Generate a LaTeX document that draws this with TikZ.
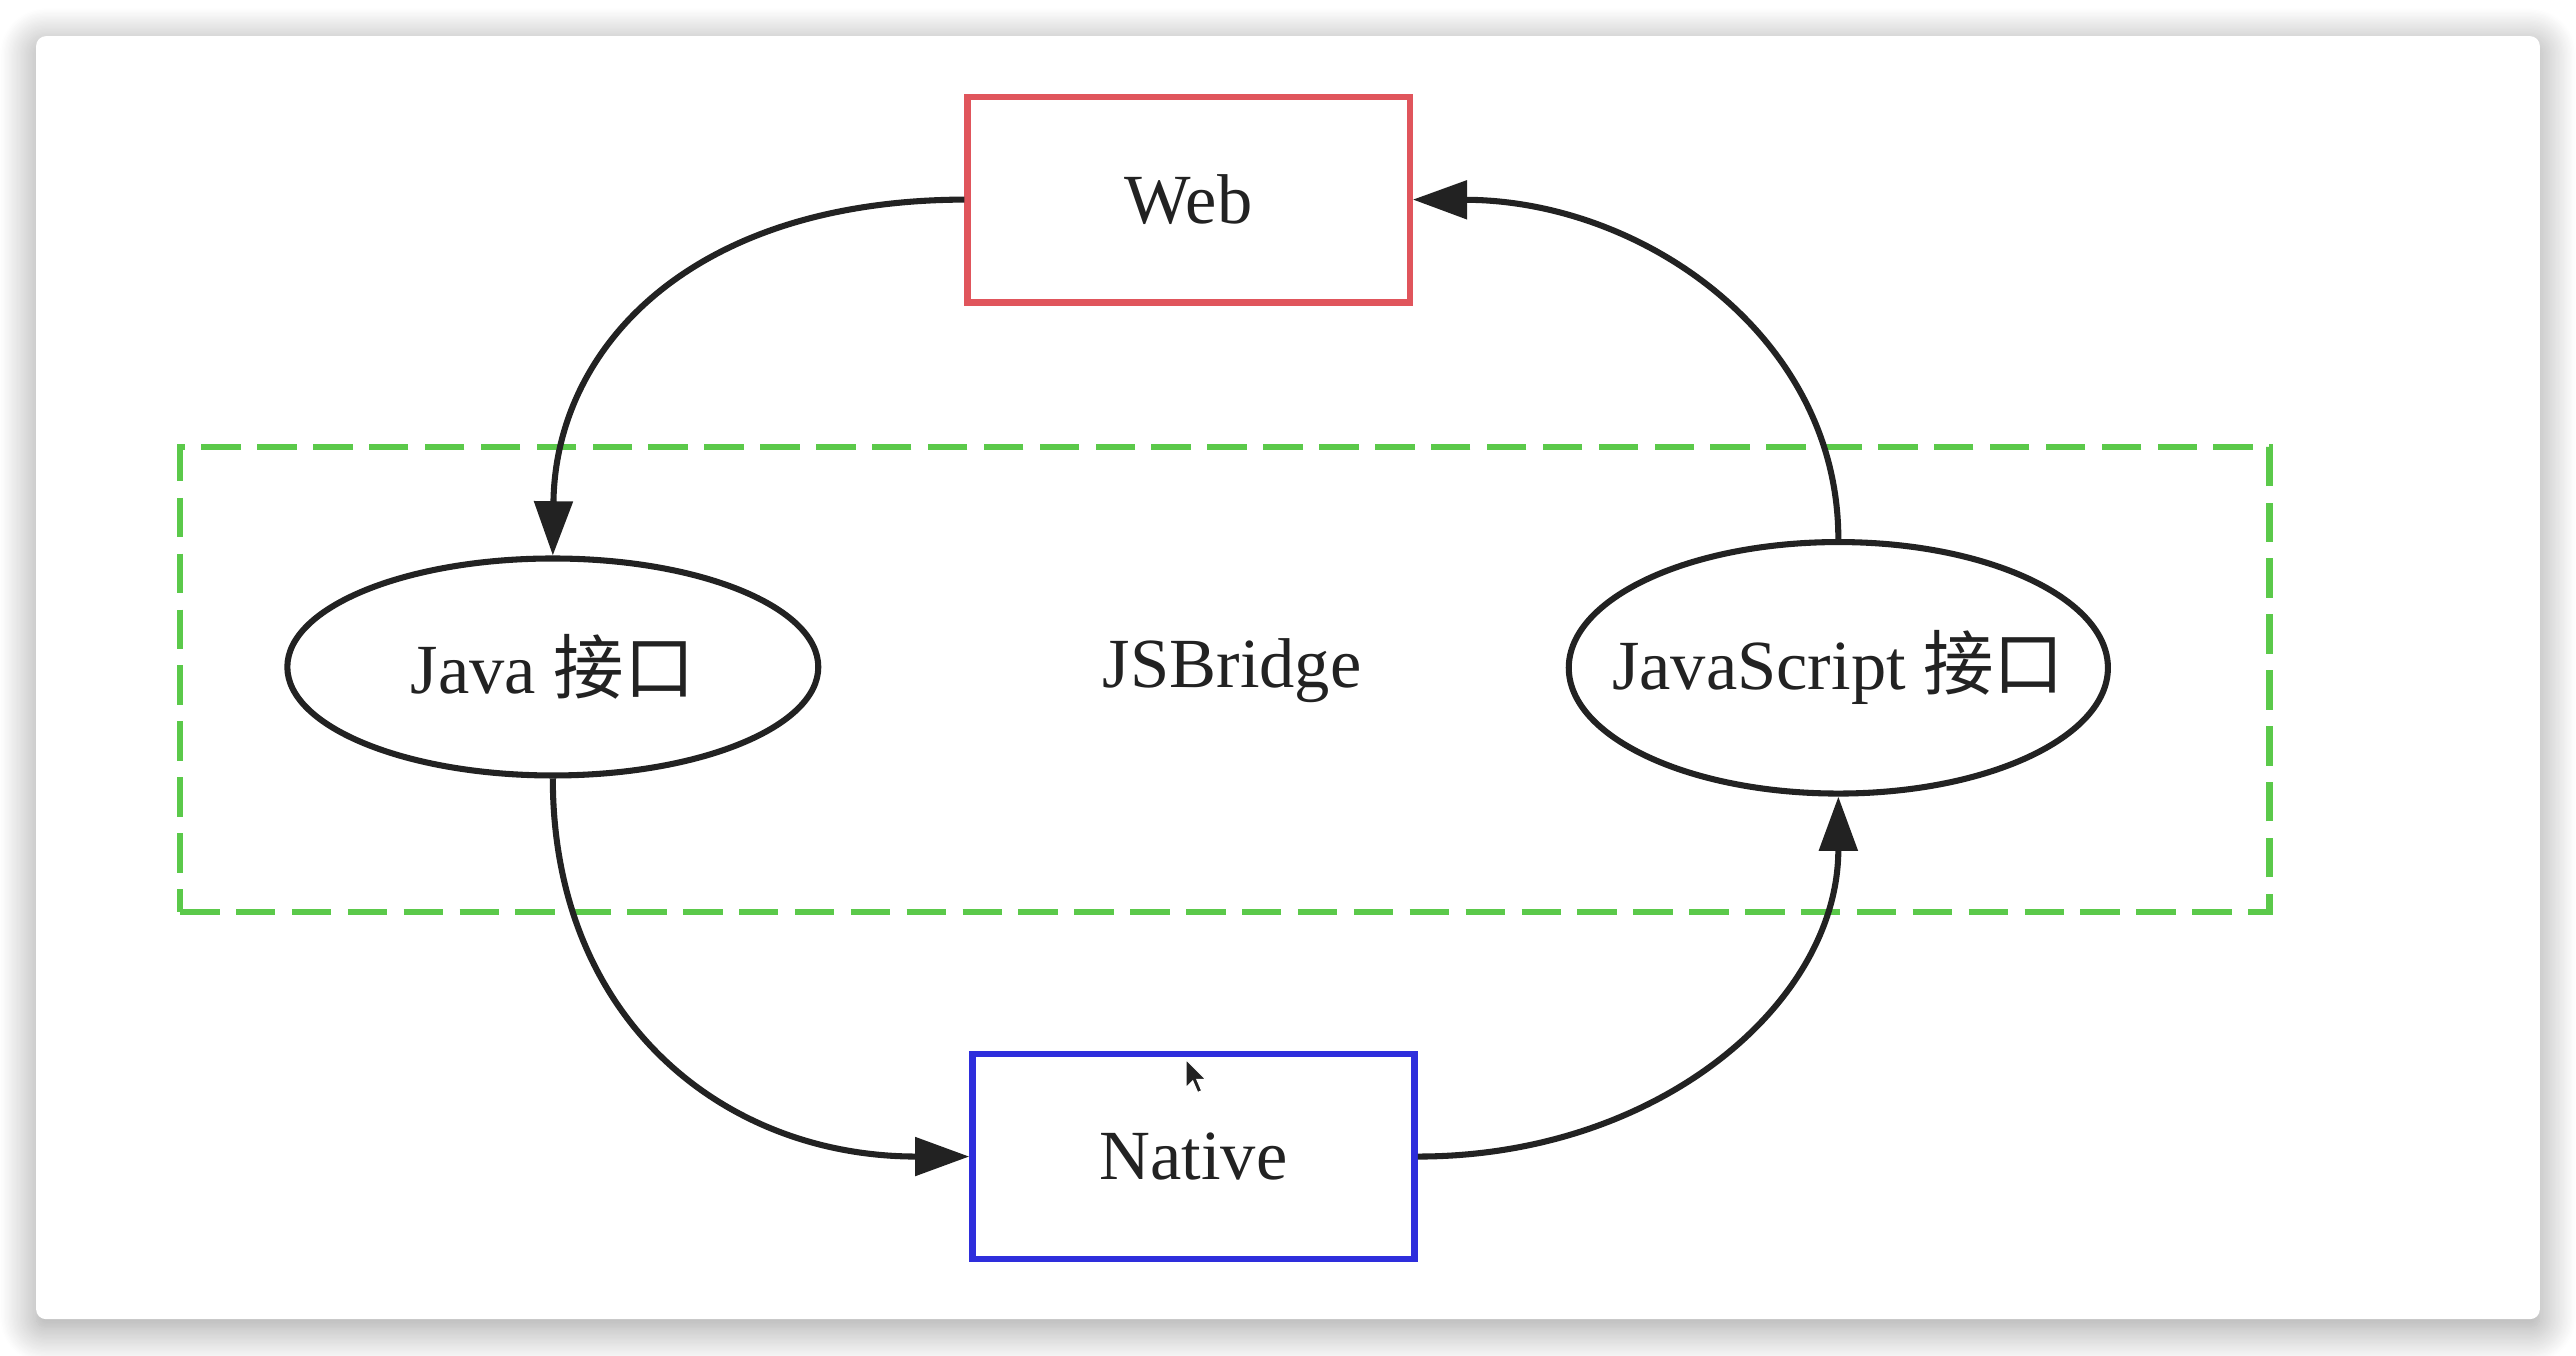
\documentclass[tikz,border=0pt]{standalone}
\usepackage{fontspec}
\setmainfont{Liberation Serif}
\newfontfamily\cjk{Noto Sans CJK SC}
\usetikzlibrary{arrows.meta,shapes.geometric,shadows.blur}
\definecolor{webred}{HTML}{E0555C}
\definecolor{natblue}{HTML}{2E2EDC}
\definecolor{brgreen}{HTML}{5BC94A}
\definecolor{ink}{HTML}{222222}
\begin{document}
\begin{tikzpicture}[x=0.01cm,y=-0.01cm,
  font=\fontsize{12.2}{14}\selectfont,
  boxnode/.style={draw, line width=1.1pt, minimum width=2.69cm, minimum height=1.25cm, inner sep=0pt, text=ink},
  ifnode/.style={draw=ink, ellipse, line width=1.05pt, inner sep=0pt},
  iflabel/.style={text=ink, inner sep=0pt},
  flow/.style={draw=ink, line width=1.05pt, -{Triangle[length=3.3mm,width=2.3mm]}},
  bridgebox/.style={draw=brgreen, line width=1.1pt, dash pattern=on 0.24cm off 0.1cm, minimum width=12.71cm, minimum height=2.83cm, inner sep=0pt}]
\useasboundingbox (0,0) rectangle (1568,825);
% card with shadow
\fill[white, rounded corners=0.06cm, blur shadow={shadow xshift=0pt, shadow yshift=-0.05cm, shadow blur radius=0.22cm, shadow blur steps=30, shadow opacity=40}] (22,22) rectangle (1546,803);
% JSBridge region
\node[bridgebox] (bridge) at (745.5,413.5) {};
% nodes
\node[boxnode, draw=webred] (web) at (723.5,121.5) {Web};
\node[boxnode, draw=natblue] (native) at (726.5,704) {Native};
\node[ifnode, minimum width=3.23cm, minimum height=1.32cm] (java) at (336.5,406) {};
\node[iflabel] (javatext) at (java.center) {Java {\cjk 接口}};
\node[ifnode, minimum width=3.28cm, minimum height=1.53cm] (js) at (1119,406.5) {};
\node[iflabel] (jstext) at (js.center) {JavaScript {\cjk 接口}};
\node[text=ink] (jsb) at (750,408) {JSBridge};
% connectors
\draw[flow] (web.west) .. controls (420,122) and (338,212) .. (java.north);
\draw[flow] (java.south) .. controls (336.5,620) and (440,704) .. (native.west);
\draw[flow] (native.east) .. controls (1010,704) and (1119,610) .. (js.south);
\draw[flow] (js.north) .. controls (1119,205) and (1000,122) .. (web.east);
% mouse cursor
\fill[ink, draw=white, line width=0.2pt] (722,645) -- (722,662) -- (726,658) -- (729,665) -- (731.5,664) -- (728.5,657) -- (734,657) -- cycle;
\end{tikzpicture}
\end{document}
